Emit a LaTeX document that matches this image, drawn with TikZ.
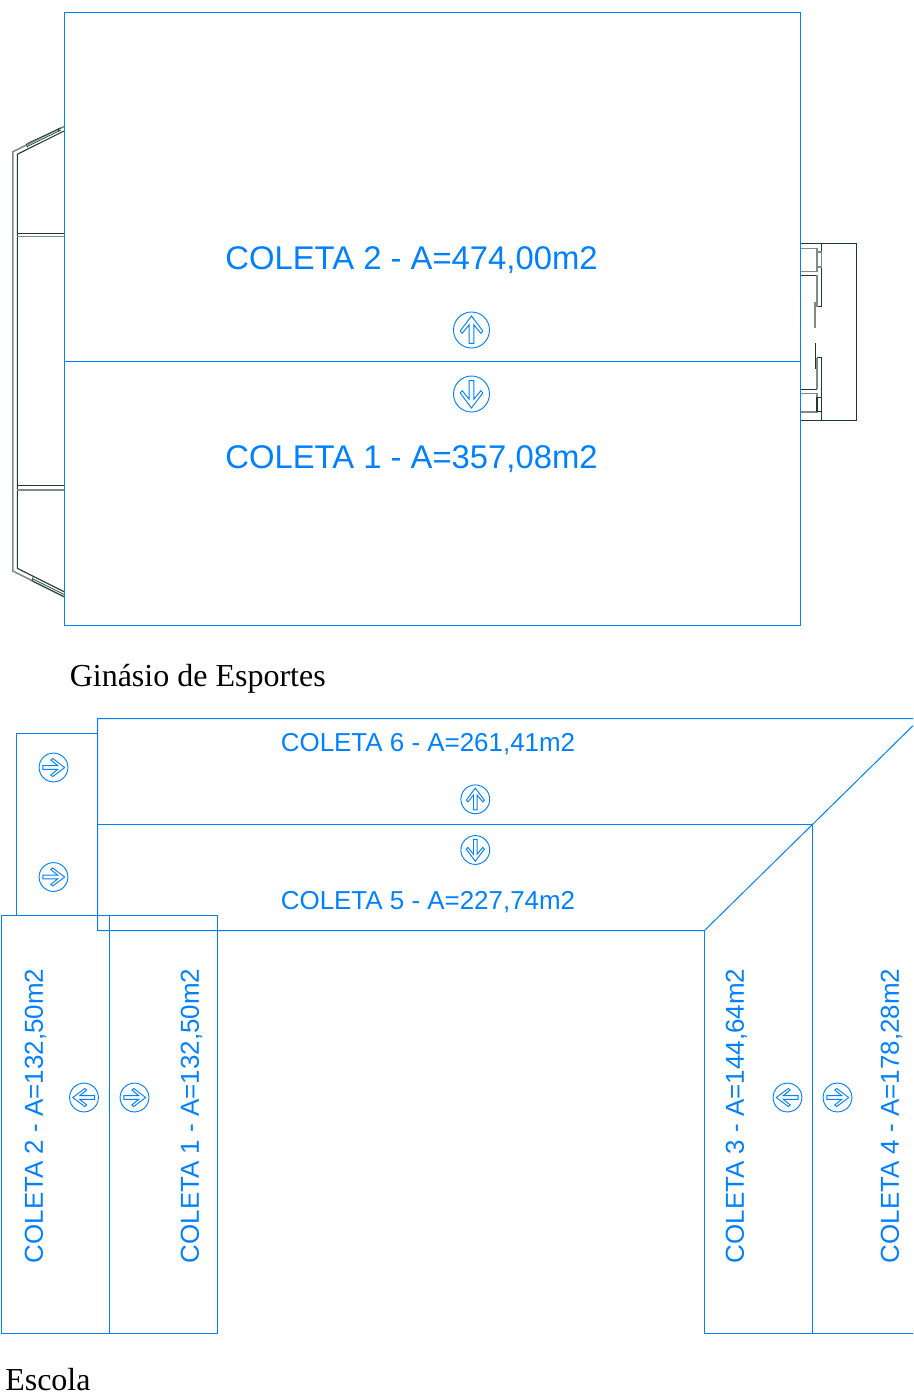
\documentclass[tikz,border=0pt]{standalone}
\usepackage{fontspec}
\setmainfont{Liberation Serif}
\newfontfamily\labelfont{Liberation Sans}
\definecolor{planblue}{RGB}{0,128,255}
\definecolor{wallgreen}{RGB}{30,58,52}
\definecolor{wallgrey}{RGB}{125,140,135}
\tikzset{
  outline/.style={draw=planblue,line width=0.75pt},
  wall/.style={draw=wallgreen,line width=0.8pt},
  wallsoft/.style={draw=wallgrey,line width=1.2pt},
  iconline/.style={draw=planblue,line width=0.7pt},
  bigarea/.style={text=planblue,inner sep=0pt,font=\labelfont\fontsize{24.6pt}{28pt}\selectfont},
  smallarea/.style={text=planblue,inner sep=0pt,font=\labelfont\fontsize{19.45pt}{23pt}\selectfont},
  sitename/.style={inner sep=0pt,font=\fontsize{24pt}{28pt}\selectfont},
  flowicon/.pic={
    \draw[iconline] (0,0) circle (18);
    \draw[iconline,line join=miter]
      (0,-14) -- (-11.3,1) -- (-9.3,3.3) -- (-2.3,-5.3) -- (-2.3,13.3)
      -- (2.3,13.3) -- (2.3,-5.3) -- (9.3,3.3) -- (11.3,1) -- cycle;
  }
}
\begin{document}
\begin{tikzpicture}[x=0.75pt,y=-0.75pt]
\useasboundingbox (0,0) rectangle (913,1394);
% Gym roof
\draw[outline] (64.5,12.5) rectangle (800.5,625.5);
\draw[outline] (64.5,361.5) -- (800.5,361.5);
% Left annex
\draw[wallsoft] (64,126.5) -- (12.9,151.7) -- (12.9,571) -- (64,596.7);
\draw[wall] (64,131) -- (17.3,154.3) -- (17.3,568.3) -- (64,591.7);
\draw[wall,line width=0.5pt] (27,143.6) -- (61,127.8) (27,146.6) -- (61,130);
\draw[wall,line width=0.5pt] (27.5,147.5) -- (26.5,144) (59,132) -- (58,128.5);
\draw[wall,line width=0.5pt] (33,579) -- (64,594.4) (33,581.4) -- (64,596.7);
\draw[wall,line width=0.5pt] (33,577) -- (32,581.5);
\draw[wall] (17.3,233.5) -- (64,233.5);
\draw[wallsoft] (17.3,236.7) -- (64,236.7);
\draw[wall] (17.3,485.5) -- (64,485.5);
\draw[wallsoft] (17.3,489.7) -- (64,489.7);
% Right annex
\draw[wall] (801,243.5) -- (856.5,243.5) -- (856.5,420.5) -- (801,420.5);
\draw[wall] (821.5,243.5) -- (821.5,306.7) -- (816.7,306.7);
\draw[wall] (821.5,420.5) -- (821.5,357.7) -- (817,357.7);
\draw[wallsoft] (801,248.7) -- (816.7,248.7) -- (816.7,271.5) -- (801,271.5);
\draw[wall] (801,275.3) -- (816.7,275.3);
\draw[wallsoft] (816.7,275.3) -- (816.7,306.7);
\draw[wallsoft] (816.7,252) rectangle (821.3,267);
\draw[wallsoft] (815,302) -- (815,328);
\draw[wall,line width=1.2pt] (815.3,343) -- (815.3,369);
\draw[wallsoft] (817,357.7) -- (817,389.3);
\draw[wall] (801,389.3) -- (817,389.3);
\draw[wallsoft] (801,393.3) -- (817,393.3) -- (817,411.7) -- (801,411.7);
\draw[wall] (817,397.7) rectangle (821.3,411.7);
% School roof
\draw[outline] (913,718.5) -- (97.5,718.5) -- (97.5,930.5) -- (704.5,930.5) -- (913,725.7);
\draw[outline] (97.5,824.5) -- (812.5,824.5);
\draw[outline] (97.5,733.5) -- (16.5,733.5) -- (16.5,915.5) -- (97.5,915.5);
\draw[outline] (1.5,915.5) rectangle (217.5,1333.5);
\draw[outline] (109.5,915.5) -- (109.5,1333.5);
\draw[outline] (913,1333.5) -- (704.5,1333.5) -- (704.5,930.5);
\draw[outline] (812.5,824.5) -- (812.5,1333.5);
% Flow icons
\path (471.5,330) pic {flowicon};
\path (471.5,394) pic[rotate=180] {flowicon};
\path (475.3,799.3) pic[scale=0.8] {flowicon};
\path (475.3,850) pic[rotate=180,scale=0.8] {flowicon};
\path (53.5,767.5) pic[rotate=-90,scale=0.8] {flowicon};
\path (53.5,877) pic[rotate=-90,scale=0.8] {flowicon};
\path (84,1097.5) pic[rotate=90,scale=0.8] {flowicon};
\path (134.5,1097.5) pic[rotate=-90,scale=0.8] {flowicon};
\path (787.5,1097.5) pic[rotate=90,scale=0.8] {flowicon};
\path (837.5,1097.5) pic[rotate=-90,scale=0.8] {flowicon};
% Labels
\node[bigarea] (g2) at (411.5,260) {COLETA 2 - A=474,00m2};
\node[bigarea] (g1) at (411.5,459) {COLETA 1 - A=357,08m2};
\node[smallarea] (e6) at (428,744.3) {COLETA 6 - A=261,41m2};
\node[smallarea] (e5) at (428,902.3) {COLETA 5 - A=227,74m2};
\node[smallarea,rotate=90] (e2) at (35.5,1116) {COLETA 2 - A=132,50m2};
\node[smallarea,rotate=90] (e1) at (191.5,1116) {COLETA 1 - A=132,50m2};
\node[smallarea,rotate=90] (e3) at (736.5,1116) {COLETA 3 - A=144,64m2};
\node[smallarea,rotate=90] (e4) at (891.5,1116) {COLETA 4 - A=178,28m2};
\node[sitename,anchor=base west] (gym) at (69.5,686) {Ginásio de Esportes};
\node[sitename,anchor=base west] (school) at (5,1390) {Escola};
\end{tikzpicture}
\end{document}
